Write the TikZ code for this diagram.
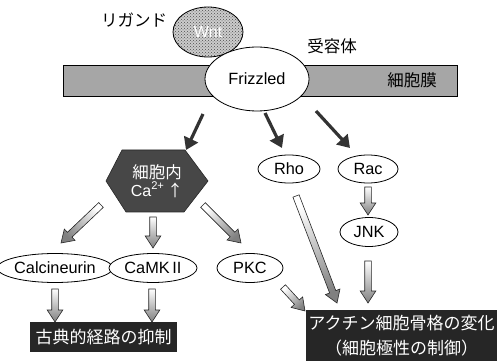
\documentclass[tikz,border=0pt]{standalone}
\usepackage{fontspec}
\setmainfont{Liberation Sans}
\newfontfamily\jp{Noto Sans CJK JP}
\usetikzlibrary{arrows.meta,patterns,shapes.geometric}

\newcommand\fatarr[2]{%
  \path (#1); \pgfgetlastxy{\fax}{\fay}%
  \path (#2); \pgfgetlastxy{\fbx}{\fby}%
  \pgfmathsetmacro\fang{atan2((\fby)-(\fay),(\fbx)-(\fax))}%
  \pgfmathsetmacro\flen{veclen((\fbx)-(\fax),(\fby)-(\fay))}%
  \pgfmathsetmacro\fneck{\flen-12}%
  \pgfmathsetmacro\fsh{\fang+90}%
  \shade[fatarrow, shading angle=\fsh, shift={(\fax,\fay)}, rotate=\fang]
    (0pt,-3.3pt) -- (\fneck pt,-3.3pt) -- (\fneck pt,-7.8pt) -- (\flen pt,0pt)
    -- (\fneck pt,7.8pt) -- (\fneck pt,3.3pt) -- (0pt,3.3pt) -- cycle;
}

\tikzset{
  jtxt/.style={font=\jp\fontsize{16.5}{18}\selectfont},
  oval/.style={ellipse, draw=black, line width=0.8pt, fill=white, inner sep=0pt,
    font=\fontsize{16.3}{18}\selectfont},
  darkarr/.style={line width=3.2pt, draw=black!80, -{Triangle[width=15pt,length=12pt]}},
  fatarrow/.style={draw=black!85, line width=0.6pt, top color=white, bottom color=black!50},
  blackbox/.style={rectangle, fill=black!85, text=white, inner sep=0pt,
    font=\jp\fontsize{17}{25}\selectfont, align=center}
}

\begin{document}
\begin{tikzpicture}[x=1pt,y=-1pt]
\useasboundingbox (0,0) rectangle (500,363);

% membrane
\node[draw=black, line width=0.8pt, fill=black!35, minimum width=394pt, minimum height=31pt,
  inner sep=0pt] (memb) at (260,80.5) {};
\node[jtxt] (membtxt) at (412,80) {細胞膜};

% ligand
\node[ellipse, draw=black, line width=0.8pt, inner sep=0pt, minimum width=70pt, minimum height=50pt,
  preaction={fill=black!20}, pattern=crosshatch dots, pattern color=black!70,
  text=white, font=\fontsize{16}{18}\selectfont] (wnt) at (208,32) {Wnt};
\node[jtxt] (ligand) at (134,20) {リガンド};

% receptor
\node[oval, minimum width=104pt, minimum height=64pt] (fz) at (257,79) {Frizzled};
\node[jtxt] (rec) at (332,46) {受容体};

% hexagon
\filldraw[fill=black!72, draw=black!85, line width=0.6pt]
  (106,181) -- (122,150) -- (185,150) -- (208,181) -- (184,212) -- (126,212) -- cycle;
\node[text=white, align=center, inner sep=0pt, minimum width=100pt, minimum height=60pt] (hex) at (157,181)
  {{\jp\fontsize{16.5}{18}\selectfont 細胞内}\\[1pt]{\fontsize{16}{18}\selectfont Ca\textsuperscript{2+}\,{\jp ↑}}};

% ovals
\node[oval, minimum width=62pt, minimum height=28pt] (rho) at (289,169) {Rho};
\node[oval, minimum width=60pt, minimum height=28pt] (rac) at (368,169) {Rac};
\node[oval, minimum width=58pt, minimum height=29pt] (jnk) at (369,232) {JNK};
\node[oval, minimum width=95pt, minimum height=29pt] (calc) at (55,268) {Calcineurin};
\node[oval, minimum width=88pt, minimum height=29pt] (camk) at (153,268) {CaMK\,II};
\node[oval, minimum width=66pt, minimum height=29pt] (pkc) at (250,268) {PKC};

% result boxes
\node[blackbox, minimum width=147pt, minimum height=30pt] (box1) at (103.5,337) {古典的経路の抑制};
\node[blackbox, minimum width=191pt, minimum height=51pt] (box2) at (401.5,335.5)
  {アクチン細胞骨格の変化\\（細胞極性の制御）};

% connector end points
\coordinate (fzA) at (203,114); \coordinate (hexT) at (186,150);
\coordinate (fzB) at (265,113); \coordinate (rhoT) at (282,148);
\coordinate (fzC) at (316,111); \coordinate (racT) at (350,148);
\coordinate (hexL) at (101,205); \coordinate (calcT) at (61,243);
\coordinate (hexB) at (153,217); \coordinate (camkT) at (153,248);
\coordinate (hexR) at (203,205); \coordinate (pkcT) at (241,243);
\coordinate (calcB) at (55,289); \coordinate (box1L) at (55,322);
\coordinate (camkB) at (152,289); \coordinate (box1R) at (152,322);
\coordinate (racB) at (368,187); \coordinate (jnkT) at (368,215);
\coordinate (rhoB) at (296,196); \coordinate (box2A) at (337,303);
\coordinate (jnkB) at (368,261); \coordinate (box2B) at (368,303);
\coordinate (pkcB) at (283,287); \coordinate (box2C) at (305,311);

% dark arrows
\draw[darkarr] (fzA) -- (hexT);
\draw[darkarr] (fzB) -- (rhoT);
\draw[darkarr] (fzC) -- (racT);

% shaded arrows
\fatarr{hexL}{calcT}
\fatarr{hexB}{camkT}
\fatarr{hexR}{pkcT}
\fatarr{calcB}{box1L}
\fatarr{camkB}{box1R}
\fatarr{racB}{jnkT}
\fatarr{rhoB}{box2A}
\fatarr{jnkB}{box2B}
\fatarr{pkcB}{box2C}
\end{tikzpicture}
\end{document}
